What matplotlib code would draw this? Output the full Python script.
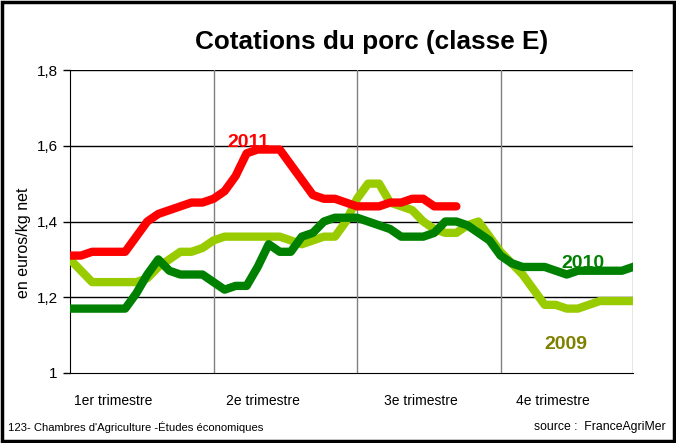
import matplotlib
matplotlib.use("Agg")
import matplotlib.pyplot as plt
from matplotlib import font_manager
from matplotlib.patches import Rectangle

names = {f.name for f in font_manager.fontManager.ttflist}
NARROW = "Liberation Sans Narrow" if "Liberation Sans Narrow" in names else "Liberation Sans"
plt.rcParams['font.family'] = [NARROW, 'DejaVu Sans']

# ---- data (weekly quotations, euros/kg net) ----
weeks = list(range(52))
y2011 = [1.31, 1.31, 1.32, 1.32, 1.32, 1.32, 1.36, 1.40, 1.42, 1.43, 1.44, 1.45, 1.45,
         1.46, 1.48, 1.52, 1.58, 1.59, 1.59, 1.59, 1.55, 1.51, 1.47, 1.46, 1.46, 1.45,
         1.44, 1.44, 1.44, 1.45, 1.45, 1.46, 1.46, 1.44, 1.44, 1.44]
y2010 = [1.17, 1.17, 1.17, 1.17, 1.17, 1.17, 1.21, 1.26, 1.30, 1.27, 1.26, 1.26, 1.26,
         1.24, 1.22, 1.23, 1.23, 1.28, 1.34, 1.32, 1.32, 1.36, 1.37, 1.40, 1.41, 1.41,
         1.41, 1.40, 1.39, 1.38, 1.36, 1.36, 1.36, 1.37, 1.40, 1.40, 1.39, 1.37, 1.35,
         1.31, 1.29, 1.28, 1.28, 1.28, 1.27, 1.26, 1.27, 1.27, 1.27, 1.27, 1.27, 1.28]
y2009 = [1.30, 1.27, 1.24, 1.24, 1.24, 1.24, 1.24, 1.25, 1.28, 1.30, 1.32, 1.32, 1.33,
         1.35, 1.36, 1.36, 1.36, 1.36, 1.36, 1.36, 1.35, 1.34, 1.35, 1.36, 1.36, 1.40,
         1.46, 1.50, 1.50, 1.45, 1.44, 1.43, 1.40, 1.38, 1.37, 1.37, 1.39, 1.40, 1.36,
         1.32, 1.29, 1.26, 1.22, 1.18, 1.18, 1.17, 1.17, 1.18, 1.19, 1.19, 1.19, 1.19]
quarters = ["1er trimestre", "2e trimestre", "3e trimestre", "4e trimestre"]
quarter_bounds = [13, 26, 39, 51]
yticks = [1.0, 1.2, 1.4, 1.6, 1.8]
ytick_labels = ["1", "1,2", "1,4", "1,6", "1,8"]

W, H = 676, 443
fig = plt.figure(figsize=(W / 100, H / 100), dpi=100)
ax = fig.add_axes([70 / W, (H - 373) / H, (633 - 70) / W, (373 - 70) / H])

lw = 6.0
ax.plot(weeks[:len(y2009)], y2009, color="#99CC00", lw=lw, solid_joinstyle="round", zorder=3)
ax.plot(weeks[:len(y2010)], y2010, color="#008000", lw=lw, solid_joinstyle="round", zorder=4)
ax.plot(weeks[:len(y2011)], y2011, color="#FF0000", lw=lw, solid_joinstyle="round",
        solid_capstyle="round", zorder=5)

ax.set_xlim(0, 51)
ax.set_ylim(1.0, 1.8)
ax.set_yticks(yticks)
ax.set_yticklabels(ytick_labels, fontsize=11)
ax.set_xticks([])
ax.tick_params(axis="y", direction="out", length=5, width=1, color="black", pad=4)

for yv in yticks[1:]:
    ax.axhline(yv, color="black", lw=1.0, zorder=1)
for xv in quarter_bounds:
    ax.axvline(xv, color="#808080", lw=1.0, zorder=1)

for s in ["top", "right"]:
    ax.spines[s].set_visible(False)
ax.spines["left"].set_color("black")
ax.spines["bottom"].set_color("black")

ax.set_ylabel("en euros/kg net", fontsize=11.5)
ax.yaxis.set_label_coords(-0.07, 0.43)

# series labels
ax.text(16.2, 1.609, "2011", color="#FF0000", fontsize=14, fontweight="bold",
        ha="center", va="center", zorder=6)
ax.text(46.5, 1.288, "2010", color="#008000", fontsize=14, fontweight="bold",
        ha="center", va="center", zorder=6)
ax.text(44.9, 1.074, "2009", color="#808000", fontsize=14, fontweight="bold",
        ha="center", va="center", zorder=6)

# quarter labels
qx = [113, 263, 421, 553]
for q, px in zip(quarters, qx):
    fig.text(px / W, (H - 401) / H, q, fontsize=10, ha="center", va="center")

fig.text(372 / W, (H - 42) / H, "Cotations du porc (classe E)", fontsize=18.8,
         fontweight="bold", ha="center", va="center")

fig.text(8 / W, (H - 427) / H, "123- Chambres d'Agriculture -Études économiques",
         fontsize=8.1, ha="left", va="center")
fig.text(666 / W, (H - 427) / H, "source :  FranceAgriMer",
         fontsize=8.8, ha="right", va="center")

fig.add_artist(Rectangle((2 / W, 2 / H), (W - 4) / W, (H - 4) / H,
                         transform=fig.transFigure, fill=False, edgecolor="black", lw=2.5))

fig.savefig("out.png", dpi=100)
